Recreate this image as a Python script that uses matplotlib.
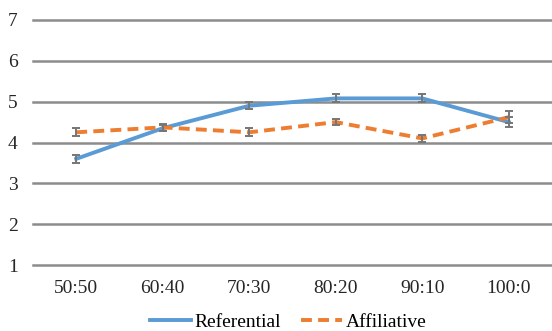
import matplotlib
matplotlib.use('Agg')
import matplotlib.pyplot as plt
import numpy as np

plt.rcParams['font.family'] = ['Liberation Serif', 'DejaVu Serif']

categories = ['50:50', '60:40', '70:30', '80:20', '90:10', '100:0']
referential = [3.6, 4.35, 4.9, 5.08, 5.08, 4.5]
referential_err = [0.1, 0.08, 0.08, 0.1, 0.1, 0.12]
affiliative = [4.25, 4.37, 4.25, 4.5, 4.1, 4.62]
affiliative_err = [0.1, 0.08, 0.1, 0.07, 0.08, 0.14]
yticks = [1, 2, 3, 4, 5, 6, 7]

fig = plt.figure(figsize=(5.52, 3.31), dpi=100)
ax = fig.add_axes([33/552, 1 - 265/331, 1 - 33/552, (265 - 20)/331])

x = np.arange(len(categories))
ax.plot(x, referential, color='#5B9BD5', lw=2.8, label='Referential', zorder=3)
ax.errorbar(x, referential, yerr=referential_err, fmt='none', ecolor='#767676',
            elinewidth=1.4, capsize=3, capthick=1.4, zorder=4)
ax.plot(x, affiliative, color='#ED7D31', lw=2.8, ls=(0, (2.8, 1.6)), label='Affiliative', zorder=3)
ax.errorbar(x, affiliative, yerr=affiliative_err, fmt='none', ecolor='#767676',
            elinewidth=1.4, capsize=3, capthick=1.4, zorder=4)

ax.set_xlim(-0.5, len(categories) - 0.5)
ax.set_ylim(1, 7)
ax.set_yticks(yticks)
ax.set_xticks(x)
ax.set_xticklabels(categories)
ax.tick_params(length=0, labelsize=14, colors='#262626')
ax.tick_params(axis='x', pad=10.5)
ax.tick_params(axis='y', pad=11)
ax.grid(axis='y', color='#8C8C8C', lw=1.8)
for gl in ax.get_ygridlines():
    gl.set_clip_on(False)
ax.set_axisbelow(True)
for s in ax.spines.values():
    s.set_visible(False)

ax.legend(loc='center', bbox_to_anchor=(0.492, -0.232), ncol=2, frameon=False,
          fontsize=14, handlelength=2.1, columnspacing=1.03, handletextpad=0.2,
          borderpad=0)

fig.savefig('out.png', dpi=100)
